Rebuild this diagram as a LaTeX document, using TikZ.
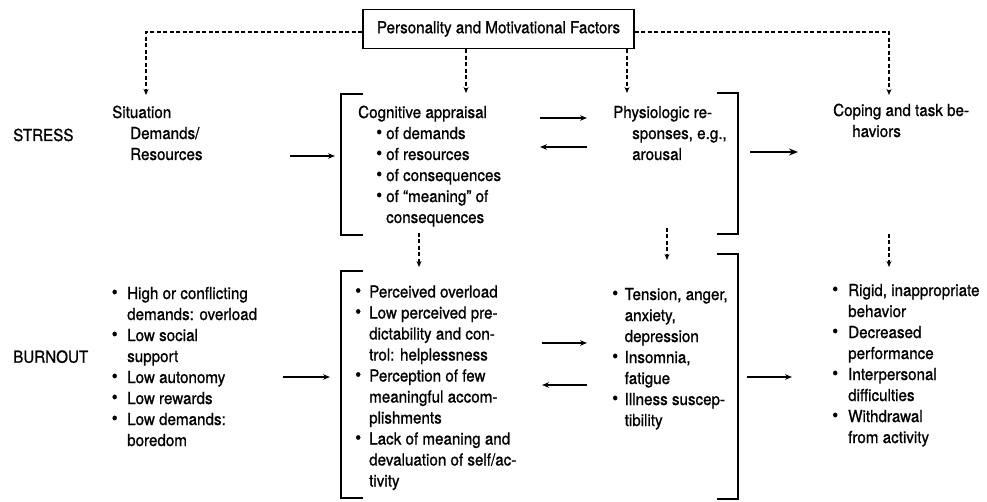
\documentclass[tikz,border=0pt]{standalone}
\usepackage{fontspec}
\setmainfont{TeX Gyre Heros}[FakeStretch=0.92,FakeBold=1]
\usetikzlibrary{arrows.meta}
\newcommand\mainsize{\fontsize{16.5}{21}\selectfont}
\newcommand\bulfont{\fontsize{18}{18}\selectfont}
\newcommand\bul[1][11pt]{\llap{\makebox[0pt]{\raisebox{0.8pt}{\bulfont\textbullet}}\hspace{#1}}}
\begin{document}
\begin{tikzpicture}[x=1pt,y=-1pt]
	\tikzstyle{txt}=[anchor=base west,inner sep=0pt,align=left,font=\mainsize]
	\tikzstyle{pbox}=[draw,line width=1.3pt,inner sep=0pt,minimum width=271pt,minimum height=39pt,font=\mainsize]
	\tikzstyle{dline}=[line width=1.4pt,dash pattern=on 4pt off 2.5pt,-{Stealth[length=6pt,width=5pt]}]
	\tikzstyle{arr}=[line width=1.3pt,-{Stealth[length=7pt,width=5.5pt]}]
	\tikzstyle{thickarr}=[line width=2pt,-{Stealth[length=9pt,width=7pt]}]
	\tikzstyle{brk}=[line width=1.4pt]
	\useasboundingbox (0,0) rectangle (987,502);
	\begin{scope}
		\node [pbox] (pmf) at (498.5,29) {Personality and Motivational Factors};
		\node [txt] (stress) at (13,141) {STRESS};
		\node [txt] (burnout) at (13,362.7) {BURNOUT};
		% stress row (nodes placed at the baseline of their last line)
		\node [txt] (sitS) at (112,160) {Situation\\\hspace*{18pt}Demands/\\\hspace*{18pt}Resources};
		\node [txt] (cogS) at (358,223) {Cognitive appraisal\\
			\hspace*{28pt}\bul[7pt]of demands\\
			\hspace*{28pt}\bul[7pt]of resources\\
			\hspace*{28pt}\bul[7pt]of consequences\\
			\hspace*{28pt}\bul[7pt]of ``meaning'' of\\
			\hspace*{28pt}consequences};
		\node [txt] (phyS) at (613,160) {Physiologic re-\\\hspace*{19pt}sponses, e.g.,\\\hspace*{19pt}arousal};
		\node [txt] (copS) at (833,137) {Coping and task be-\\\hspace*{19pt}haviors};
		% burnout row
		\node [txt] (sitB) at (127,446) {\bul[12.5pt]High or conflicting\\demands: overload\\
			\bul[12.5pt]Low social\\support\\
			\bul[12.5pt]Low autonomy\\
			\bul[12.5pt]Low rewards\\
			\bul[12.5pt]Low demands:\\boredom};
		\node [txt] (cogB) at (369,486.5) {\bul Perceived overload\\
			\bul Low perceived pre-\\dictability and con-\\trol: helplessness\\
			\bul Perception of few\\meaningful accom-\\plishments\\
			\bul Lack of meaning and\\devaluation of self/ac-\\tivity};
		\node [txt] (phyB) at (624.5,426) {\bul[9.5pt]Tension, anger,\\anxiety,\\depression\\
			\bul[9.5pt]Insomnia,\\fatigue\\
			\bul[9.5pt]Illness suscep-\\tibility};
		\node [txt] (copB) at (848,443) {\bul[13pt]Rigid, inappropriate\\behavior\\
			\bul[13pt]Decreased\\performance\\
			\bul[13pt]Interpersonal\\difficulties\\
			\bul[13pt]Withdrawal\\from activity};
	\end{scope}
	% brackets
	\draw [brk] (363,94) -| (341,235) -- (363,235);
	\draw [brk] (717,93) -| (738,234) -- (717,234);
	\draw [brk] (363,271) -| (341,498) -- (363,498);
	\draw [brk] (717,254) -| (738,499) -- (717,499);
	% dashed influences
	\coordinate (tSit) at (146,95);
	\coordinate (tCog) at (466,93);
	\coordinate (tPhy) at (627,93);
	\coordinate (tCop) at (889,95);
	\draw [dline] ([yshift=-3pt]pmf.west) -| (tSit);
	\draw [dline] ([yshift=-3pt]pmf.east) -| (tCop);
	\draw [dline] (pmf.south -| tCog) -- (tCog);
	\draw [dline] (pmf.south -| tPhy) -- (tPhy);
	\coordinate (dCog1) at (419,233);
	\coordinate (dCog2) at (419,267);
	\coordinate (dPhy1) at (667,228);
	\coordinate (dPhy2) at (667,260);
	\coordinate (dCop1) at (889,234);
	\coordinate (dCop2) at (889,267);
	\draw [dline] (dCog1) -- (dCog2);
	\draw [dline] (dPhy1) -- (dPhy2);
	\draw [dline] (dCop1) -- (dCop2);
	% solid arrows
	\coordinate (aS1) at (290,156);
	\coordinate (aS2) at (335,156);
	\coordinate (aS3) at (540,118);
	\coordinate (aS4) at (587,118);
	\coordinate (aS5) at (587,147);
	\coordinate (aS6) at (540,147);
	\coordinate (aS7) at (750,152);
	\coordinate (aS8) at (798,152);
	\coordinate (aB1) at (283,377);
	\coordinate (aB2) at (330,377);
	\coordinate (aB3) at (542,343);
	\coordinate (aB4) at (587,343);
	\coordinate (aB5) at (587,385);
	\coordinate (aB6) at (542,385);
	\coordinate (aB7) at (747,377);
	\coordinate (aB8) at (792,377);
	\draw [arr] (aS1) -- (aS2);
	\draw [arr] (aS3) -- (aS4);
	\draw [arr] (aS5) -- (aS6);
	\draw [thickarr] (aS7) -- (aS8);
	\draw [arr] (aB1) -- (aB2);
	\draw [arr] (aB3) -- (aB4);
	\draw [arr] (aB5) -- (aB6);
	\draw [arr] (aB7) -- (aB8);
\end{tikzpicture}
\end{document}
